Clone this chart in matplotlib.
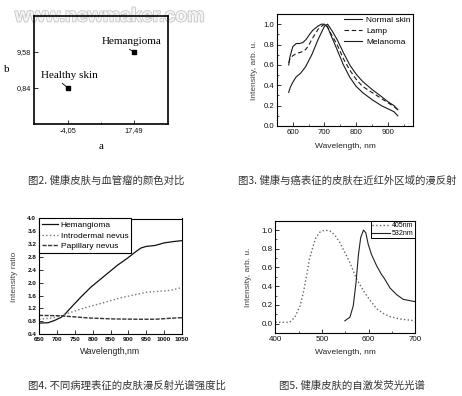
import matplotlib
matplotlib.use('agg')
import matplotlib.pyplot as plt
import matplotlib.patheffects as pe
from matplotlib.ticker import FixedLocator, MultipleLocator, FormatStrFormatter

W, H = 462, 396

# fig 2: colour coordinates (a, b) of skin
fig2_names = ['Healthy skin', 'Hemangioma']
fig2_a = [-4.05, 17.49]
fig2_b = [0.84, 9.58]
fig2_alabels = ['-4,05', '17,49']
fig2_blabels = ['0,84', '9,58']

# fig 3: NIR diffuse reflectance
fig3_wl_normal = [587, 591, 600, 611, 621, 632, 642, 653, 663, 679, 690, 700, 710, 725, 740, 760, 780, 800, 820, 850, 880, 900, 920, 932]
fig3_normal = [0.60, 0.68, 0.78, 0.81, 0.81, 0.82, 0.85, 0.90, 0.94, 0.98, 1.0, 1.0, 0.97, 0.86, 0.75, 0.60, 0.48, 0.39, 0.33, 0.26, 0.20, 0.17, 0.14, 0.10]
fig3_wl_lamp = [587, 591, 600, 610, 620, 630, 640, 650, 660, 680, 695, 705, 720, 740, 760, 780, 800, 820, 850, 880, 900, 920, 932]
fig3_lamp = [0.62, 0.66, 0.69, 0.71, 0.72, 0.73, 0.75, 0.79, 0.85, 0.95, 0.99, 1.0, 0.91, 0.80, 0.66, 0.55, 0.46, 0.39, 0.33, 0.27, 0.23, 0.19, 0.16]
fig3_wl_mel = [587, 592, 600, 610, 625, 640, 660, 680, 700, 710, 725, 740, 760, 780, 800, 820, 850, 880, 900, 920, 932]
fig3_mel = [0.33, 0.38, 0.43, 0.48, 0.52, 0.58, 0.70, 0.85, 0.98, 1.0, 0.93, 0.85, 0.72, 0.60, 0.51, 0.44, 0.36, 0.29, 0.24, 0.20, 0.16]

# fig 4: intensity ratio
fig4_wl_hem = [650, 675, 693, 712, 721, 740, 767, 795, 832, 869, 897, 920, 935, 950, 975, 1000, 1025, 1050]
fig4_hem = [0.74, 0.75, 0.82, 0.92, 1.0, 1.23, 1.55, 1.86, 2.2, 2.54, 2.76, 2.96, 3.08, 3.13, 3.16, 3.24, 3.28, 3.31]
fig4_wl_intro = [650, 687, 712, 740, 786, 832, 879, 925, 950, 971, 1018, 1050]
fig4_intro = [0.86, 0.90, 0.97, 1.08, 1.24, 1.38, 1.53, 1.64, 1.70, 1.72, 1.76, 1.85]
fig4_wl_pap = [650, 706, 743, 789, 854, 928, 975, 1018, 1050]
fig4_pap = [0.98, 0.97, 0.94, 0.90, 0.87, 0.86, 0.86, 0.89, 0.91]

# fig 5: autofluorescence
fig5_wl_405 = [400, 431, 442, 453, 460, 467, 473, 480, 487, 496, 506, 517, 527, 538, 549, 560, 574, 589, 603, 617, 631, 646, 667, 700]
fig5_405 = [0.014, 0.014, 0.07, 0.19, 0.33, 0.51, 0.69, 0.81, 0.92, 0.98, 1.0, 0.99, 0.95, 0.87, 0.76, 0.65, 0.48, 0.35, 0.25, 0.16, 0.11, 0.075, 0.05, 0.03]
fig5_wl_532 = [549, 560, 567, 573, 578, 583, 589, 594, 599, 606, 617, 627, 634, 646, 660, 674, 689, 700]
fig5_532 = [0.03, 0.07, 0.19, 0.44, 0.73, 0.92, 1.0, 0.97, 0.85, 0.74, 0.62, 0.53, 0.48, 0.38, 0.31, 0.26, 0.245, 0.235]

captions = ['图2. 健康皮肤与血管瘤的颜色对比',
            '图3. 健康与癌表征的皮肤在近红外区域的漫反射',
            '图4. 不同病理表征的皮肤漫反射光谱强度比',
            '图5. 健康皮肤的自激发荧光光谱']

plt.rcParams['font.family'] = ['Liberation Sans', 'DejaVu Sans']

fig = plt.figure(figsize=(W / 100, H / 100), dpi=100)


def rect(l, t, r, b):
    return [l / W, 1 - b / H, (r - l) / W, (b - t) / H]


def put(x, y, s, **kw):
    fig.text(x / W, 1 - y / H, s, **kw)


def style(ax, size, lw=0.8):
    ax.tick_params(which='both', direction='in', labelsize=size, colors='#111', pad=2)
    ax.tick_params(which='major', length=3, width=0.6)
    ax.tick_params(which='minor', length=1.5, width=0.5)
    for s in ax.spines.values():
        s.set_linewidth(lw)


# watermark, drawn under the axes
put(15, 17, 'www.newmaker.com', fontsize=14, fontweight='bold', color='#f4f4f4', va='center',
    path_effects=[pe.withStroke(linewidth=1.2, foreground='#c4c4c4')], zorder=-5)

# ---- fig 2
ax = fig.add_axes(rect(34, 16, 168, 124))
ax.set_facecolor('none')
ax.plot(fig2_a, fig2_b, 's', color='k', ms=2.5)
ax.set_xlim(-15.15, 28.6)
ax.set_ylim(-7.9, 18.3)
ax.xaxis.set_major_locator(FixedLocator(fig2_a))
ax.set_xticklabels(fig2_alabels)
ax.xaxis.set_minor_locator(FixedLocator([(fig2_a[0] + fig2_a[1]) / 2]))
ax.yaxis.set_major_locator(FixedLocator(fig2_b))
ax.set_yticklabels(fig2_blabels)
style(ax, 5.3, lw=1.2)
serif = ['Liberation Serif', 'DejaVu Serif']
ax.annotate(fig2_names[0], (fig2_a[0], fig2_b[0]), xytext=(1, 12), textcoords='offset pixels',
            ha='center', va='center', fontsize=8, family=serif,
            arrowprops=dict(arrowstyle='-', lw=0.6, color='k', relpos=(0.3, 0.1), shrinkA=0, shrinkB=1))
ax.annotate(fig2_names[1], (fig2_a[1], fig2_b[1]), xytext=(-2, 10), textcoords='offset pixels',
            ha='center', va='center', fontsize=8, family=serif,
            arrowprops=dict(arrowstyle='-', lw=0.6, color='k', relpos=(0.35, 0.1), shrinkA=0, shrinkB=1))
put(7, 70, 'b', fontsize=8, family=serif, ha='center', va='center')
put(101, 146, 'a', fontsize=8, family=serif, ha='center', va='center')

# ---- fig 3
ax = fig.add_axes(rect(277, 14, 413, 126))
ax.plot(fig3_wl_normal, fig3_normal, '-', color='#1a1a1a', lw=0.8, label='Normal skin')
ax.plot(fig3_wl_lamp, fig3_lamp, '--', color='#1a1a1a', lw=0.8, dashes=(4, 2.5), label='Lamp')
ax.plot(fig3_wl_mel, fig3_mel, '-', color='#1a1a1a', lw=0.8, label='Melanoma')
ax.set_xlim(550, 980)
ax.set_ylim(0, 1.1)
ax.xaxis.set_major_locator(MultipleLocator(100))
ax.xaxis.set_minor_locator(MultipleLocator(50))
ax.yaxis.set_major_locator(MultipleLocator(0.2))
ax.yaxis.set_minor_locator(MultipleLocator(0.1))
ax.yaxis.set_major_formatter(FormatStrFormatter('%.1f'))
style(ax, 5.6)
ax.legend(loc='upper right', frameon=False, fontsize=6, handlelength=2.2, borderaxespad=0.1,
          labelspacing=0.35, handletextpad=0.5, borderpad=0.2)
put(345, 146, 'Wavelength, nm', fontsize=6, ha='center', va='center', color='#222')
put(254, 70, 'Intensity, arb. u.', fontsize=6, rotation=90, ha='center', va='center', color='#444')

# ---- fig 4
ax = fig.add_axes(rect(39, 218.5, 182, 334))
ax.plot(fig4_wl_hem, fig4_hem, '-', color='#111', lw=0.9, label='Hemangioma')
ax.plot(fig4_wl_intro, fig4_intro, ':', color='#777', lw=1.0, label='Introdermal nevus')
ax.plot(fig4_wl_pap, fig4_pap, '--', color='#333', lw=1.0, dashes=(3, 1), label='Papillary nevus')
ax.set_xlim(650, 1050)
ax.set_ylim(0.4, 4.0)
ax.xaxis.set_major_locator(MultipleLocator(50))
ax.yaxis.set_major_locator(MultipleLocator(0.4))
ax.yaxis.set_major_formatter(FormatStrFormatter('%.1f'))
style(ax, 4.6)
for t in ax.get_xticklabels() + ax.get_yticklabels():
    t.set_fontweight('bold')
leg = ax.legend(loc='upper left', fontsize=6, handlelength=2.0, borderaxespad=0, fancybox=False,
                framealpha=1, edgecolor='k', labelspacing=0.35, handletextpad=0.3, borderpad=0.3)
leg.get_frame().set_linewidth(0.8)
put(110, 352, 'Wavelength,nm', fontsize=6.2, ha='center', va='center', color='#222')
put(15, 277, 'Intensity ratio', fontsize=6, rotation=90, ha='center', va='center', color='#444')

# ---- fig 5
ax = fig.add_axes(rect(275.3, 220.7, 415.3, 333))
ax.plot(fig5_wl_405, fig5_405, ':', color='#666', lw=1.0, label='405nm')
ax.plot(fig5_wl_532, fig5_532, '-', color='#222', lw=0.8, label='532nm')
ax.set_xlim(400, 700)
ax.set_ylim(-0.1, 1.1)
ax.xaxis.set_major_locator(MultipleLocator(100))
ax.xaxis.set_minor_locator(MultipleLocator(50))
ax.yaxis.set_major_locator(MultipleLocator(0.2))
ax.yaxis.set_minor_locator(MultipleLocator(0.1))
ax.yaxis.set_major_formatter(FormatStrFormatter('%.1f'))
style(ax, 5.8)
leg = ax.legend(loc='upper right', fontsize=5, handlelength=2.6, borderaxespad=0.1, fancybox=False,
                framealpha=1, edgecolor='k', labelspacing=0.1, handletextpad=0.2, borderpad=0.15)
leg.get_frame().set_linewidth(0.7)
put(345, 352, 'Wavelength, nm', fontsize=6, ha='center', va='center', color='#222')
put(249, 277, 'Intensity, arb. u.', fontsize=6, rotation=90, ha='center', va='center', color='#444')

# captions
cjk = ['Noto Sans CJK SC', 'DejaVu Sans']
for (x, y), txt in zip([(28, 181), (238, 181), (28, 386), (279, 386)], captions):
    put(x, y, txt, fontsize=7.5, family=cjk, ha='left', va='center', color='#333')

fig.savefig('out.png', dpi=100)
